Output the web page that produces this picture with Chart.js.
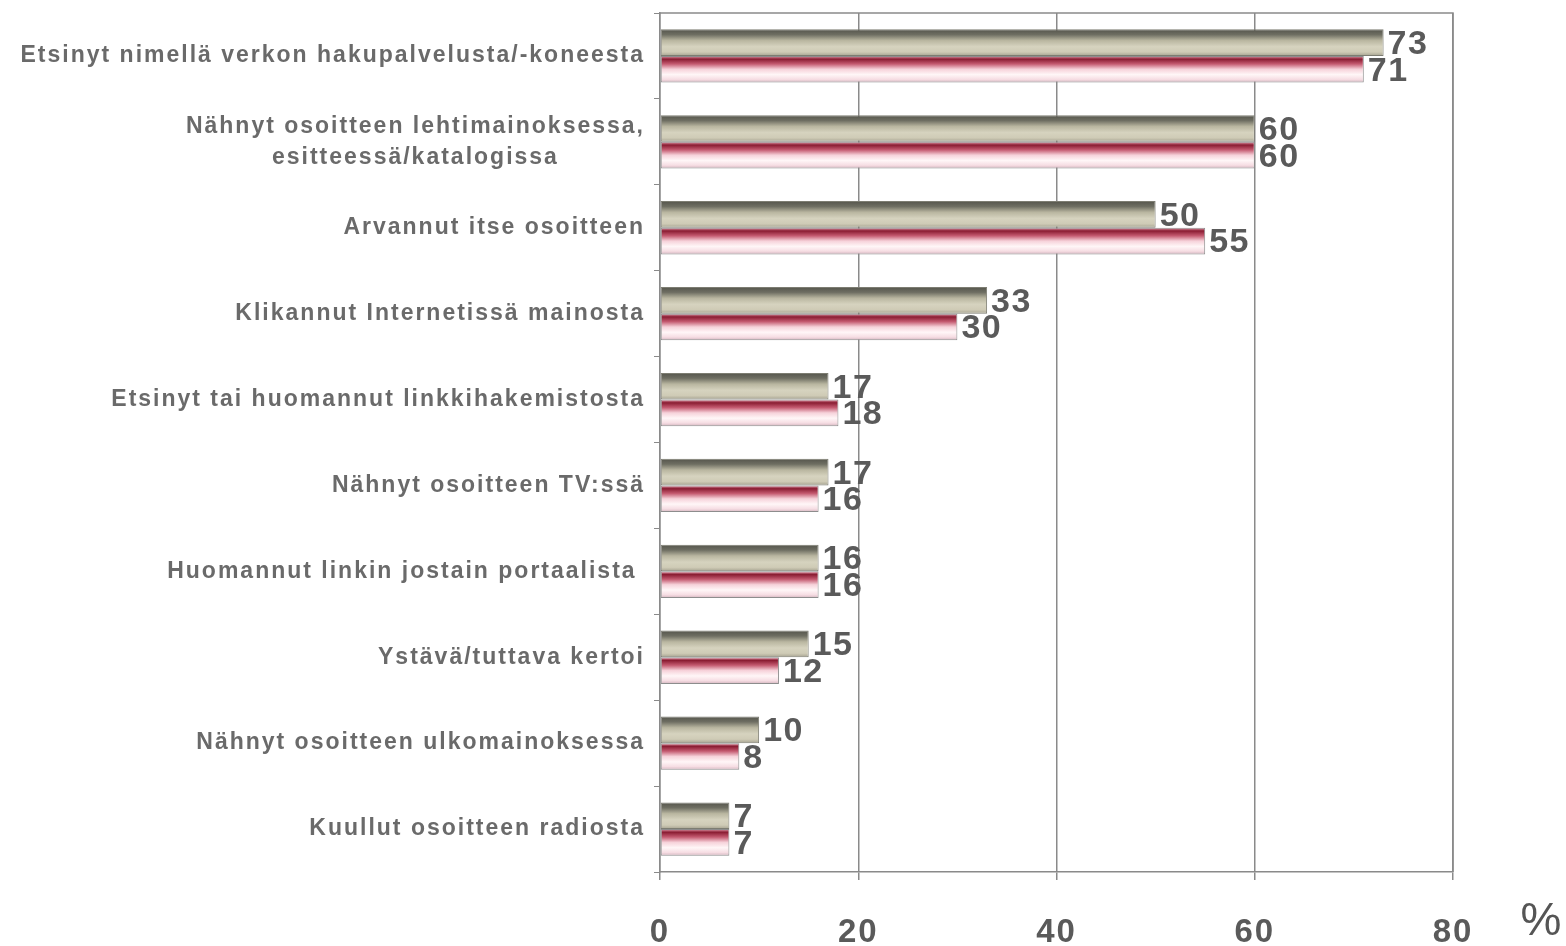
<!DOCTYPE html>
<html>
<head>
<meta charset="utf-8">
<script src="https://cdn.jsdelivr.net/npm/chart.js@4.4.1/dist/chart.umd.min.js"></script>
<style>
  html, body { margin: 0; padding: 0; background: #fff; }
  #wrap { width: 1566px; height: 946px; position: relative; }
</style>
</head>
<body>
<div id="wrap"><canvas id="chartCanvas"></canvas></div>
<script>
const categories = [
    ['Etsinyt nimellä verkon hakupalvelusta/-koneesta'],
    ['Nähnyt osoitteen lehtimainoksessa,', 'esitteessä/katalogissa'],
    ['Arvannut itse osoitteen'],
    ['Klikannut Internetissä mainosta'],
    ['Etsinyt tai huomannut linkkihakemistosta'],
    ['Nähnyt osoitteen TV:ssä'],
    ['Huomannut linkin jostain portaalista '],
    ['Ystävä/tuttava kertoi'],
    ['Nähnyt osoitteen ulkomainoksessa'],
    ['Kuullut osoitteen radiosta']
];
const seriesGrey = [73, 60, 50, 33, 17, 17, 16, 15, 10, 7];
const seriesPink = [71, 60, 55, 30, 18, 16, 16, 12, 8, 7];
const xTicks = [0, 20, 40, 60, 80];

const CAT_PCT = 0.62;
const TEXT = '#6a6a6a';
const FONT = '"Liberation Sans", Arial, sans-serif';

function barGradient(context, stops, upper) {
    const chart = context.chart;
    const y = chart.scales.y;
    if (!y || y.bottom === undefined) return stops[0][1];
    const catH = (y.bottom - y.top) / categories.length;
    const half = catH * CAT_PCT / 2;
    const c = y.getPixelForValue(context.dataIndex);
    const y0 = upper ? c - half : c;
    const y1 = upper ? c : c + half;
    const g = chart.ctx.createLinearGradient(0, y0, 0, y1);
    stops.forEach(s => g.addColorStop(s[0], s[1]));
    return g;
}

const greyStops = [
    [0, '#55554c'], [0.2, '#6e6e62'], [0.42, '#b9b6a0'],
    [0.65, '#d6d3bf'], [0.85, '#cfcbb6'], [1, '#a6a391']
];
const pinkStops = [
    [0, '#e7a3b2'], [0.12, '#8a1c32'], [0.3, '#c45a70'],
    [0.5, '#f6d2da'], [0.7, '#fff6f7'], [0.88, '#f6dde3'], [1, '#d2b3bd']
];

const valueLabels = {
    id: 'valueLabels',
    afterDatasetsDraw(chart) {
        const ctx = chart.ctx;
        ctx.save();
        ctx.letterSpacing = '1.5px';
        ctx.font = 'bold 34px ' + FONT;
        ctx.fillStyle = '#5a5a5a';
        ctx.textAlign = 'left';
        ctx.textBaseline = 'middle';
        chart.data.datasets.forEach((ds, di) => {
            chart.getDatasetMeta(di).data.forEach((bar, i) => {
                ctx.fillText(String(ds.data[i]), bar.x + 4, bar.y + 2);
            });
        });
        ctx.restore();
    }
};

const frameAndLabels = {
    id: 'frameAndLabels',
    beforeDraw(chart) {
        chart.ctx.letterSpacing = '2px';
    },
    beforeDatasetsDraw(chart) {
        const a = chart.chartArea;
        const ctx = chart.ctx;
        ctx.save();
        ctx.strokeStyle = '#8a8a8a';
        ctx.lineWidth = 1.5;
        ctx.beginPath();
        ctx.moveTo(a.left, a.top);
        ctx.lineTo(a.right, a.top);
        ctx.lineTo(a.right, a.bottom);
        ctx.stroke();
        ctx.restore();
    },
    afterDraw(chart) {
        const ctx = chart.ctx;
        const y = chart.scales.y;
        const a = chart.chartArea;
        ctx.save();
        ctx.letterSpacing = '2px';
        ctx.font = 'bold 23px ' + FONT;
        ctx.fillStyle = TEXT;
        ctx.textBaseline = 'middle';
        const right = a.left - 15;
        categories.forEach((lines, i) => {
            const c = y.getPixelForValue(i);
            const lh = 31;
            const widest = Math.max(...lines.map(l => ctx.measureText(l).width));
            const mid = right - widest / 2;
            lines.forEach((l, k) => {
                const ly = c + (k - (lines.length - 1) / 2) * lh;
                if (lines.length > 1) {
                    ctx.textAlign = 'center';
                    ctx.fillText(l, mid, ly);
                } else {
                    ctx.textAlign = 'right';
                    ctx.fillText(l, right, ly);
                }
            });
        });
        ctx.letterSpacing = '0px';
        ctx.font = '46px ' + FONT;
        ctx.fillStyle = '#555555';
        ctx.textAlign = 'center';
        ctx.fillText('%', 1541, 922);
        ctx.restore();
    }
};

const ctx = document.getElementById('chartCanvas').getContext('2d');
new Chart(ctx, {
    type: 'bar',
    data: {
        labels: categories,
        datasets: [{
            label: 'A',
            data: seriesGrey,
            backgroundColor: c => barGradient(c, greyStops, true),
            borderColor: '#7d7d72',
            borderWidth: 1,
            borderSkipped: false
        }, {
            label: 'B',
            data: seriesPink,
            backgroundColor: c => barGradient(c, pinkStops, false),
            borderColor: '#8d8d8d',
            borderWidth: 1,
            borderSkipped: false
        }]
    },
    options: {
        indexAxis: 'y',
        responsive: true,
        maintainAspectRatio: false,
        animation: false,
        layout: { padding: { top: 13, right: 113, bottom: 0, left: 0 } },
        datasets: {
            bar: { categoryPercentage: CAT_PCT, barPercentage: 1 }
        },
        scales: {
            x: {
                min: 0,
                max: 80,
                afterBuildTicks: scale => {
                    scale.ticks = xTicks.map(v => ({ value: v }));
                },
                afterFit: scale => { scale.height = 74; },
                grid: {
                    color: '#8a8a8a',
                    lineWidth: 1.5,
                    tickLength: 8,
                    drawTicks: true
                },
                border: { display: true, color: '#8a8a8a', width: 1.5 },
                ticks: {
                    color: '#5a5a5a',
                    padding: 33,
                    maxRotation: 0,
                    font: { size: 33, weight: 'bold', family: FONT }
                }
            },
            y: {
                grid: {
                    offset: true,
                    drawOnChartArea: false,
                    tickLength: 6,
                    color: '#8a8a8a'
                },
                border: { display: true, color: '#8a8a8a', width: 1.5 },
                ticks: { display: false },
                afterFit: scale => { scale.width = 660; }
            }
        },
        plugins: {
            legend: { display: false },
            tooltip: { enabled: false }
        }
    },
    plugins: [valueLabels, frameAndLabels]
});
</script>
</body>
</html>
